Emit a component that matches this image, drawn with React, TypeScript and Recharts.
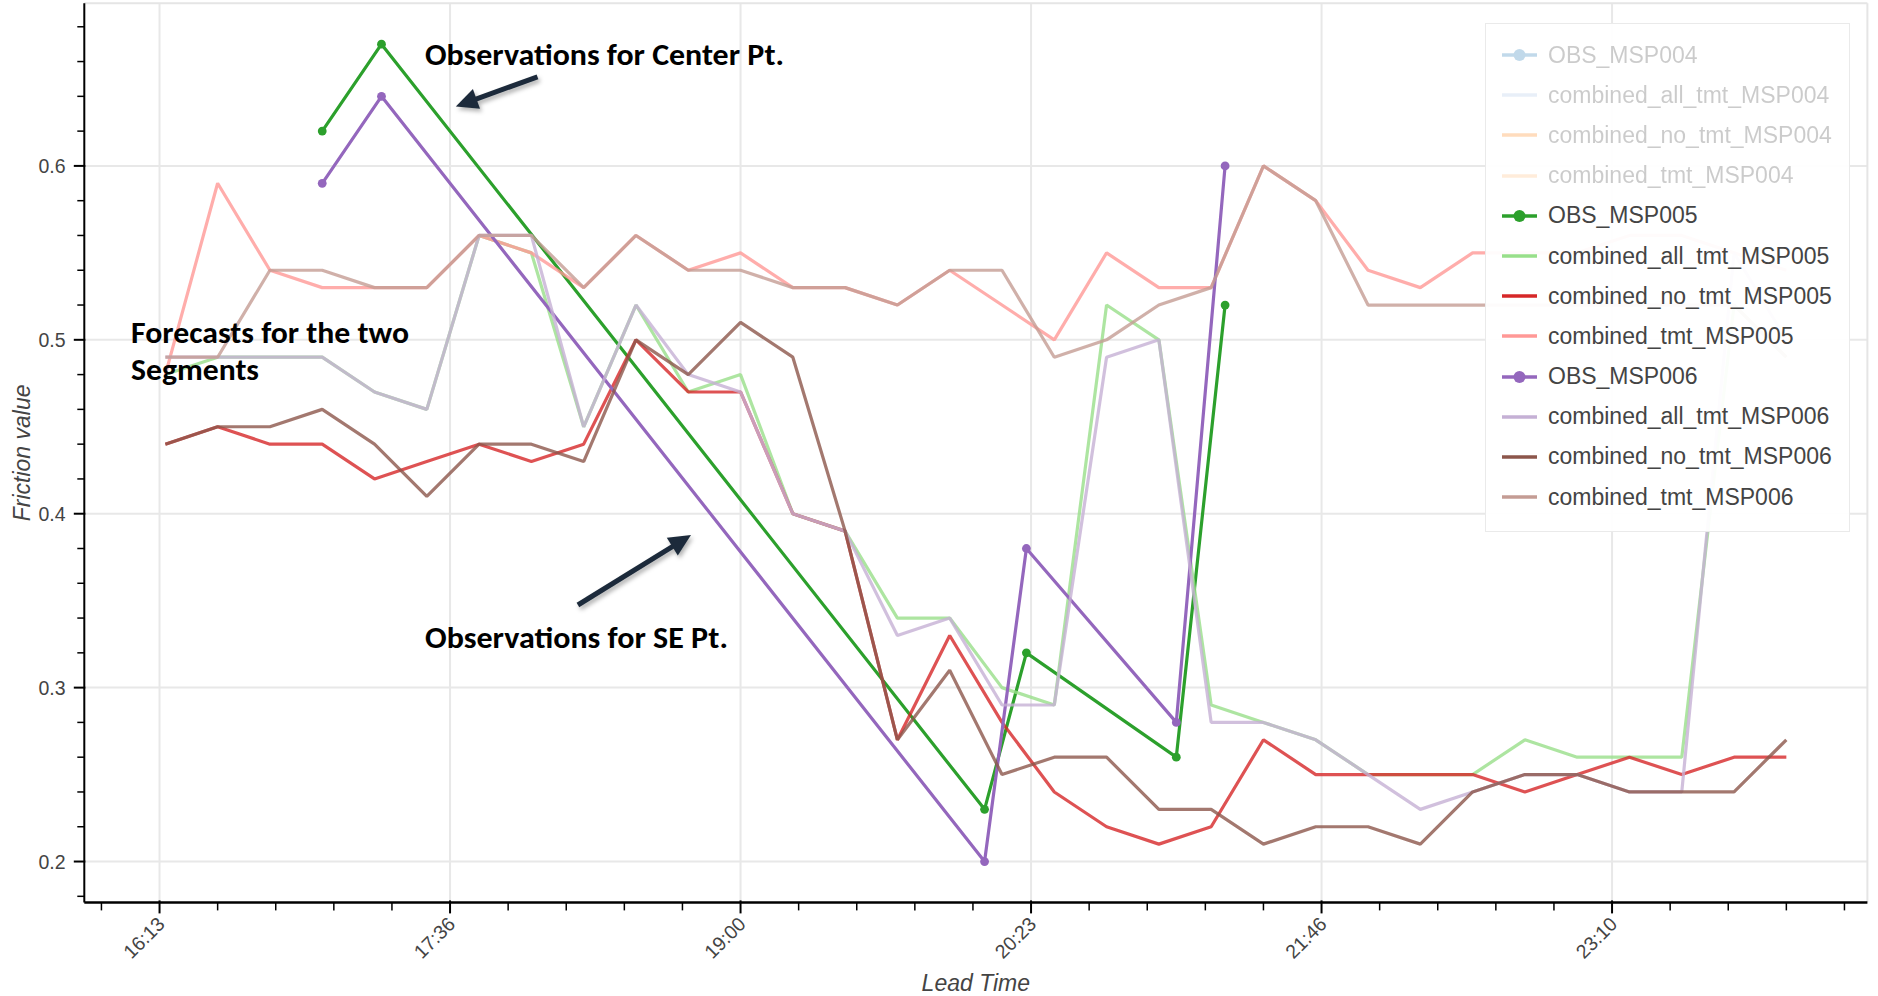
import React from "react";
import { Label, Line, LineChart, ReferenceLine, XAxis, YAxis } from "recharts";

// Friction value forecasts (15 min lead steps) and observations for two road segments

const W = 1878;
const H = 996;

const forecastTimes = [
  "16:15", "16:30", "16:45", "17:00", "17:15", "17:30", "17:45", "18:00",
  "18:15", "18:30", "18:45", "19:00", "19:15", "19:30", "19:45", "20:00",
  "20:15", "20:30", "20:45", "21:00", "21:15", "21:30", "21:45", "22:00",
  "22:15", "22:30", "22:45", "23:00", "23:15", "23:30", "23:45", "24:00",
];
const obsTimes = ["17:00", "17:17", "20:10", "20:22", "21:05", "21:19"];

const obsMSP005 = [0.62, 0.67, 0.23, 0.32, 0.26, 0.52];
const obsMSP006 = [0.59, 0.64, 0.2, 0.38, 0.28, 0.6];

const allTmtMSP005 = [
  0.48, 0.49, 0.49, 0.49, 0.47, 0.46, 0.56, 0.55, 0.45, 0.52, 0.47, 0.48, 0.4, 0.39, 0.34, 0.34,
  0.3, 0.29, 0.52, 0.5, 0.29, 0.28, 0.27, 0.25, 0.25, 0.25, 0.27, 0.26, 0.26, 0.26, 0.52, 0.49,
];
const noTmtMSP005 = [
  0.44, 0.45, 0.44, 0.44, 0.42, 0.43, 0.44, 0.43, 0.44, 0.5, 0.47, 0.47, 0.4, 0.39, 0.27, 0.33,
  0.28, 0.24, 0.22, 0.21, 0.22, 0.27, 0.25, 0.25, 0.25, 0.25, 0.24, 0.25, 0.26, 0.25, 0.26, 0.26,
];
const tmtMSP005 = [
  0.48, 0.59, 0.54, 0.53, 0.53, 0.53, 0.56, 0.55, 0.53, 0.56, 0.54, 0.55, 0.53, 0.53, 0.52, 0.54,
  0.52, 0.5, 0.55, 0.53, 0.53, 0.6, 0.58, 0.54, 0.53, 0.55, 0.55, 0.55, 0.56, 0.56, 0.55, 0.54,
];
const allTmtMSP006 = [
  0.49, 0.49, 0.49, 0.49, 0.47, 0.46, 0.56, 0.56, 0.45, 0.52, 0.48, 0.47, 0.4, 0.39, 0.33, 0.34,
  0.29, 0.29, 0.49, 0.5, 0.28, 0.28, 0.27, 0.25, 0.23, 0.24, 0.25, 0.25, 0.24, 0.24, 0.55, 0.5,
];
const noTmtMSP006 = [
  0.44, 0.45, 0.45, 0.46, 0.44, 0.41, 0.44, 0.44, 0.43, 0.5, 0.48, 0.51, 0.49, 0.39, 0.27, 0.31,
  0.25, 0.26, 0.26, 0.23, 0.23, 0.21, 0.22, 0.22, 0.21, 0.24, 0.25, 0.25, 0.24, 0.24, 0.24, 0.27,
];
const tmtMSP006 = [
  0.49, 0.49, 0.54, 0.54, 0.53, 0.53, 0.56, 0.56, 0.53, 0.56, 0.54, 0.54, 0.53, 0.53, 0.52, 0.54,
  0.54, 0.49, 0.5, 0.52, 0.53, 0.6, 0.58, 0.52, 0.52, 0.52, 0.52, 0.52, 0.52, 0.52, 0.52, 0.49,
];

// axis ticks (datetime ticker every 5000 s, minor every 1000 s)
const xMajorTimes = ["16:13:20", "17:36:40", "19:00:00", "20:23:20", "21:46:40", "23:10:00"];
const xTickLabels = ["16:13", "17:36", "19:00", "20:23", "21:46", "23:10"];
const yMajorTicks = [0.2, 0.3, 0.4, 0.5, 0.6];
const yMinorTicks = [
  0.18, 0.22, 0.24, 0.26, 0.28, 0.32, 0.34, 0.36, 0.38, 0.42, 0.44, 0.46, 0.48,
  0.52, 0.54, 0.56, 0.58, 0.62, 0.64, 0.66, 0.68,
];

type Series = {
  name: string;
  color: string;
  obs?: boolean;
  hidden?: boolean;
  times?: string[];
  values?: number[];
};

const series: Series[] = [
  { name: "OBS_MSP004", color: "#1f77b4", obs: true, hidden: true },
  { name: "combined_all_tmt_MSP004", color: "#aec7e8", hidden: true },
  { name: "combined_no_tmt_MSP004", color: "#ff7f0e", hidden: true },
  { name: "combined_tmt_MSP004", color: "#ffbb78", hidden: true },
  { name: "OBS_MSP005", color: "#2ca02c", obs: true, times: obsTimes, values: obsMSP005 },
  { name: "combined_all_tmt_MSP005", color: "#98df8a", times: forecastTimes, values: allTmtMSP005 },
  { name: "combined_no_tmt_MSP005", color: "#d62728", times: forecastTimes, values: noTmtMSP005 },
  { name: "combined_tmt_MSP005", color: "#ff9896", times: forecastTimes, values: tmtMSP005 },
  { name: "OBS_MSP006", color: "#9467bd", obs: true, times: obsTimes, values: obsMSP006 },
  { name: "combined_all_tmt_MSP006", color: "#c5b0d5", times: forecastTimes, values: allTmtMSP006 },
  { name: "combined_no_tmt_MSP006", color: "#8c564b", times: forecastTimes, values: noTmtMSP006 },
  { name: "combined_tmt_MSP006", color: "#c49c94", times: forecastTimes, values: tmtMSP006 },
];

const toMinutes = (s: string) => {
  const [h, m, sec] = s.split(":").map(Number);
  return h * 60 + m + (sec || 0) / 60;
};

const visible = series.filter((s) => !s.hidden && s.times && s.values);
const seriesData = (s: Series) => s.times!.map((t, i) => ({ t: toMinutes(t), v: s.values![i] }));

// 10% range padding, like bokeh's DataRange1d
const allT = visible.flatMap((s) => s.times!.map(toMinutes));
const allV = visible.flatMap((s) => s.values!);
const padRange = (lo: number, hi: number): [number, number] => {
  const p = (hi - lo) * 0.05;
  return [lo - p, hi + p];
};
const xDomain = padRange(Math.min(...allT), Math.max(...allT));
const yDomain = padRange(Math.min(...allV), Math.max(...allV));

const xMajor = xMajorTimes.map(toMinutes);
const xMinor: number[] = [];
for (let k = -10; k < 60; k++) {
  const v = xMajor[0] + (k * 1000) / 60;
  if (v >= xDomain[0] && v <= xDomain[1] && k % 5 !== 0) xMinor.push(v);
}
const xTicks = [...xMajor, ...xMinor].sort((a, b) => a - b);
const yTicks = [...yMajorTicks, ...yMinorTicks].sort((a, b) => a - b);

const FONT = "'Liberation Sans', Arial, Helvetica, sans-serif";
const TEXT = "#444";

function XTick(props: any) {
  const { x, y, payload } = props;
  const idx = xMajor.findIndex((m) => Math.abs(m - payload.value) < 1e-6);
  const major = idx >= 0;
  const ax = x + 1.5;
  const ay = y + 18;
  return (
    <g>
      <line x1={x} x2={x} y1={y - (major ? 2 : 0)} y2={y + (major ? 11 : 8)} stroke="#000" strokeWidth={major ? 2 : 1.5} />
      {major && (
        <text
          x={ax}
          y={ay}
          textAnchor="end"
          dominantBaseline="central"
          transform={`rotate(-45 ${ax} ${ay})`}
          fontSize={19.5}
          fontFamily={FONT}
          fill={TEXT}
        >
          {xTickLabels[idx]}
        </text>
      )}
    </g>
  );
}

function YTick(props: any) {
  const { x, y, payload } = props;
  const major = yMajorTicks.some((m) => Math.abs(m - payload.value) < 1e-6);
  return (
    <g>
      <line x1={x - (major ? 10.5 : 7)} x2={x + (major ? 1 : 0)} y1={y} y2={y} stroke="#000" strokeWidth={major ? 2 : 1.5} />
      {major && (
        <text x={x - 18.7} y={y} textAnchor="end" dominantBaseline="central" fontSize={19.5} fontFamily={FONT} fill={TEXT}>
          {payload.value.toFixed(1)}
        </text>
      )}
    </g>
  );
}

function LegendBox() {
  return (
    <div
      style={{
        position: "absolute",
        left: 1485,
        top: 23,
        width: 365,
        height: 509,
        boxSizing: "border-box",
        padding: "11px 0 0 16px",
        background: "rgba(255,255,255,0.95)",
        border: "1.5px solid rgba(229,229,229,0.8)",
      }}
    >
      {series.map((s) => (
        <div
          key={s.name}
          style={{
            height: 40.2,
            display: "flex",
            alignItems: "center",
            opacity: s.hidden ? 0.27 : 1,
          }}
        >
          <svg width={36} height={16} style={{ flex: "none" }}>
            <line x1={0} x2={35} y1={8} y2={8} stroke={s.color} strokeWidth={3.3} />
            {s.obs && <circle cx={17.5} cy={8} r={6} fill={s.color} />}
          </svg>
          <span
            style={{
              marginLeft: 10,
              fontFamily: FONT,
              fontSize: 23,
              color: TEXT,
              whiteSpace: "nowrap",
              lineHeight: "23px",
            }}
          >
            {s.name}
          </span>
        </div>
      ))}
    </div>
  );
}

function Arrow({ x1, y1, x2, y2 }: { x1: number; y1: number; x2: number; y2: number }) {
  const len = Math.hypot(x2 - x1, y2 - y1);
  const ux = (x2 - x1) / len;
  const uy = (y2 - y1) / len;
  const hl = 22;
  const hw = 10.5;
  const bx = x2 - ux * hl;
  const by = y2 - uy * hl;
  const pts = `${x2},${y2} ${bx - uy * hw},${by + ux * hw} ${bx + uy * hw},${by - ux * hw}`;
  return (
    <g filter="url(#arrowShadow)">
      <line x1={x1} y1={y1} x2={bx + ux * 2} y2={by + uy * 2} stroke="#1f2c3b" strokeWidth={5} />
      <polygon points={pts} fill="#1f2c3b" />
    </g>
  );
}

function Annotations() {
  const font = "Carlito, Lato, 'Open Sans', sans-serif";
  return (
    <svg width={W} height={H} style={{ position: "absolute", left: 0, top: 0, pointerEvents: "none" }}>
      <defs>
        <filter id="arrowShadow" x="-20%" y="-20%" width="140%" height="140%">
          <feDropShadow dx={2} dy={3} stdDeviation={2} floodColor="#000" floodOpacity={0.3} />
        </filter>
      </defs>
      <g fontFamily={font} fontWeight={700} fontSize={30} fill="#000">
        <text x={425} y={65} textLength={359} lengthAdjust="spacingAndGlyphs">
          Observations for Center Pt.
        </text>
        <text x={131} y={343} textLength={278} lengthAdjust="spacingAndGlyphs">
          Forecasts for the two
        </text>
        <text x={131} y={380} textLength={128} lengthAdjust="spacingAndGlyphs">
          Segments
        </text>
        <text x={425} y={648} textLength={303} lengthAdjust="spacingAndGlyphs">
          Observations for SE Pt.
        </text>
      </g>
      <Arrow x1={537.5} y1={76.8} x2={455.8} y2={106.4} />
      <Arrow x1={577.9} y1={605} x2={691} y2={535} />
    </svg>
  );
}

export default function App() {
  return (
    <div style={{ position: "absolute", left: 0, top: 0, width: W, height: H, background: "#fff" }}>
      <LineChart width={W} height={H} margin={{ top: 3.3, right: 10.6, bottom: 0, left: 0 }}>
        <XAxis
          type="number"
          dataKey="t"
          domain={xDomain}
          allowDataOverflow
          ticks={xTicks}
          interval={0}
          tick={XTick}
          tickLine={false}
          tickSize={0}
          tickMargin={0}
          height={93.6}
          axisLine={{ stroke: "#000", strokeWidth: 2.5 }}
        >
          <Label
            content={(p: any) => {
              const vb = p.viewBox || {};
              return (
                <text
                  x={vb.x + vb.width / 2}
                  y={vb.y + 88.3}
                  textAnchor="middle"
                  fontStyle="italic"
                  fontSize={23}
                  fontFamily={FONT}
                  fill={TEXT}
                >
                  Lead Time
                </text>
              );
            }}
          />
        </XAxis>
        <YAxis
          type="number"
          domain={yDomain}
          allowDataOverflow
          ticks={yTicks}
          interval={0}
          tick={YTick}
          tickLine={false}
          tickSize={0}
          tickMargin={0}
          width={84.3}
          axisLine={{ stroke: "#000", strokeWidth: 2 }}
        >
          <Label
            content={(p: any) => {
              const vb = p.viewBox || {};
              const cx = vb.x + 22.5;
              const cy = vb.y + vb.height / 2;
              return (
                <text
                  x={cx}
                  y={cy}
                  transform={`rotate(-90 ${cx} ${cy})`}
                  textAnchor="middle"
                  dominantBaseline="central"
                  fontStyle="italic"
                  fontSize={23}
                  fontFamily={FONT}
                  fill={TEXT}
                >
                  Friction value
                </text>
              );
            }}
          />
        </YAxis>

        {xMajor.map((v) => (
          <ReferenceLine key={`gx${v}`} x={v} stroke="#e8e8e8" strokeWidth={2} />
        ))}
        {yMajorTicks.map((v) => (
          <ReferenceLine key={`gy${v}`} y={v} stroke="#e8e8e8" strokeWidth={2} />
        ))}
        <ReferenceLine x={xDomain[1]} stroke="#e5e5e5" strokeWidth={2} />
        <ReferenceLine y={yDomain[1]} stroke="#e5e5e5" strokeWidth={2} />

        {visible.map((s) => (
          <Line
            key={s.name}
            name={s.name}
            data={seriesData(s)}
            dataKey="v"
            type="linear"
            stroke={s.color}
            strokeWidth={3.2}
            strokeOpacity={s.obs ? 1 : 0.8}
            strokeLinejoin="bevel"
            dot={s.obs ? { r: 4.4, fill: s.color, stroke: s.color, strokeWidth: 0 } : false}
            activeDot={false}
            isAnimationActive={false}
          />
        ))}
      </LineChart>
      <LegendBox />
      <Annotations />
    </div>
  );
}
